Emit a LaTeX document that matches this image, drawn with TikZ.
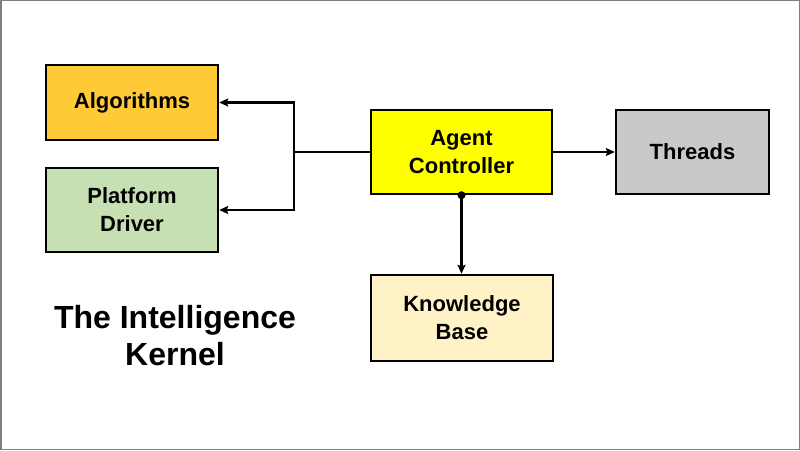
\documentclass[tikz,border=0pt]{standalone}
\usepackage{fontspec}
\setmainfont{Liberation Sans}
\usetikzlibrary{arrows.meta}
\definecolor{algfill}{HTML}{FFCA35}
\definecolor{pdfill}{HTML}{C6E0B4}
\definecolor{acfill}{HTML}{FFFF00}
\definecolor{thfill}{HTML}{C9C9C9}
\definecolor{kbfill}{HTML}{FFF2C7}
\definecolor{framegray}{HTML}{808080}
\tikzset{
  box/.style={draw=black, line width=2.4pt, inner sep=0pt, align=center,
    font=\fontsize{22}{28}\selectfont\bfseries},
  conn/.style={line width=2.4pt},
  arr/.style={conn, -{Stealth[length=9pt,width=8pt,inset=1.5pt]}},
}
\begin{document}
\begin{tikzpicture}[x=1pt,y=1pt]
\useasboundingbox (0,0) rectangle (800,450);
\draw[framegray, line width=1.5pt] (0.75,0.75) rectangle (799.25,449.25);
\node[box, fill=algfill, minimum width=172pt, minimum height=75pt] (alg) at (132,347.5) {Algorithms};
\node[box, fill=pdfill, minimum width=172pt, minimum height=84pt] (pd) at (132,240) {Platform\\Driver};
\node[box, fill=acfill, minimum width=181pt, minimum height=84pt] (ac) at (461.5,298) {Agent\\Controller};
\node[box, fill=thfill, minimum width=153pt, minimum height=84pt] (th) at (692.5,298) {Threads};
\node[box, fill=kbfill, minimum width=182pt, minimum height=86pt] (kb) at (462,132) {Knowledge\\Base};
\node[align=center, font=\fontsize{32}{37}\selectfont\bfseries] (title) at (175,114) {The Intelligence\\Kernel};
\coordinate (j) at ([xshift=-76pt]ac.west);
\draw[conn] (ac.west) -- (j);
\draw[arr] (j) |- (alg.east);
\draw[arr] (j) |- (pd.east);
\draw[arr] (ac.east) -- (th.west);
\draw[arr] (ac.south) -- (ac.south |- kb.north);
\fill (ac.south) circle (4pt);
\end{tikzpicture}
\end{document}
